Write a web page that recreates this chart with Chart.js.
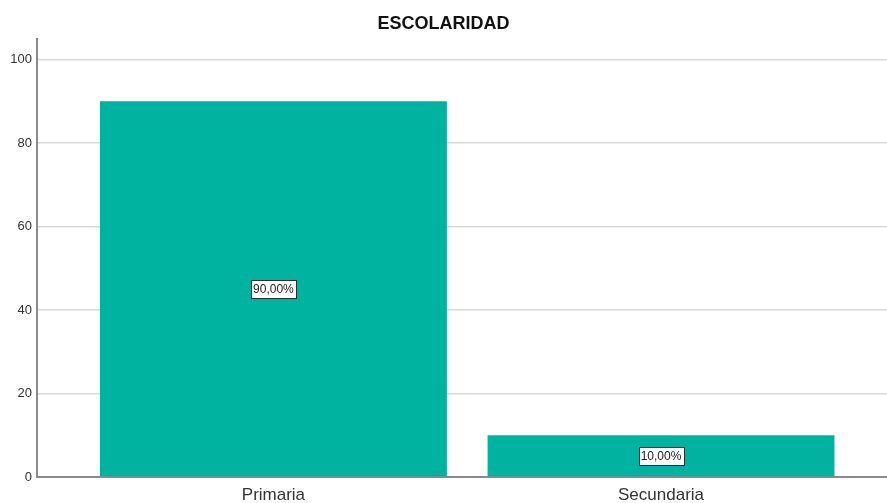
<!DOCTYPE html>
<html>
<head>
<meta charset="utf-8">
<script src="https://cdn.jsdelivr.net/npm/chart.js@4/dist/chart.umd.min.js"></script>
<style>
  html, body { margin: 0; padding: 0; background: #ffffff; }
  #wrap { width: 887px; height: 503px; }
</style>
</head>
<body>
<div id="wrap"><canvas id="chart"></canvas></div>
<script>
// datos del grafico
var categories = ["Primaria", "Secundaria"];
var percentages = [90, 10];
var yTicks = [0, 20, 40, 60, 80, 100];

var barColor = "rgb(0, 179, 160)";

// posiciones 1, 2 ... para cada categoria
var points = [];
categories.forEach((c, i) => {
    points.push({ x: i + 1, y: percentages[i] });
});

// etiquetas con caja blanca en el centro de cada barra
var boxLabels = {
    id: "boxLabels",
    afterDatasetsDraw: function(chart){
        var ctx = chart.ctx;
        var meta = chart.getDatasetMeta(0);
        ctx.save();
        ctx.font = "12px 'Liberation Sans', Arial, sans-serif";
        ctx.textAlign = "center";
        ctx.textBaseline = "middle";
        meta.data.forEach((bar, i) => {
            var txt = percentages[i].toFixed(2).replace(".", ",") + "%";
            var w = ctx.measureText(txt).width + 4;
            var h = 18;
            var cx = bar.x;
            var cy = (bar.y + bar.base) / 2;
            ctx.fillStyle = "#ffffff";
            ctx.fillRect(Math.round(cx - w / 2) + 0.5, Math.round(cy - h / 2) + 0.5, Math.round(w), h);
            ctx.strokeStyle = "#2b2b2b";
            ctx.lineWidth = 1;
            ctx.strokeRect(Math.round(cx - w / 2) + 0.5, Math.round(cy - h / 2) + 0.5, Math.round(w), h);
            ctx.fillStyle = "#222222";
            ctx.fillText(txt, cx, cy + 1);
        });
        ctx.restore();
    }
};

var ctx1 = document.getElementById("chart");

var chart = new Chart(ctx1, {
    type: "bar",
    data: {
        datasets: [{
            label: "ESCOLARIDAD",
            data: points,
            backgroundColor: barColor,
            borderWidth: 0,
            categoryPercentage: 1,
            barPercentage: 0.895
        }]
    },
    options: {
        responsive: true,
        maintainAspectRatio: false,
        animation: false,
        layout: { padding: 0 },
        plugins: {
            legend: { display: false },
            tooltip: { enabled: false },
            title: {
                display: true,
                text: "ESCOLARIDAD",
                color: "#111111",
                font: { family: "'Liberation Sans', Arial, sans-serif", size: 18, weight: "bold" },
                padding: { top: 13, bottom: 4 }
            }
        },
        scales: {
            x: {
                type: "linear",
                min: 0.39,
                max: 2.583,
                offset: false,
                grid: { display: false, drawTicks: false },
                border: { display: true, color: "#8a8a8a", width: 2 },
                afterBuildTicks: function(axis){
                    axis.ticks = categories.map((c, i) => ({ value: i + 1 }));
                },
                ticks: {
                    autoSkip: false,
                    maxRotation: 0,
                    padding: 8,
                    color: "#333333",
                    font: { family: "'Liberation Sans', Arial, sans-serif", size: 17 },
                    callback: function(value, index){
                        return categories[index];
                    }
                },
                afterFit: function(axis){ axis.height = 26; }
            },
            y: {
                min: 0,
                max: 105,
                grid: { color: "#d9d9d9", lineWidth: 1.5, drawTicks: false },
                border: { display: true, color: "#8a8a8a", width: 2 },
                afterBuildTicks: function(axis){
                    axis.ticks = yTicks.map(v => ({ value: v }));
                },
                ticks: {
                    padding: 5,
                    color: "#333333",
                    font: { family: "'Liberation Sans', Arial, sans-serif", size: 13 }
                },
                afterFit: function(axis){ axis.width = 37; }
            }
        }
    },
    plugins: [boxLabels]
});
</script>
</body>
</html>
